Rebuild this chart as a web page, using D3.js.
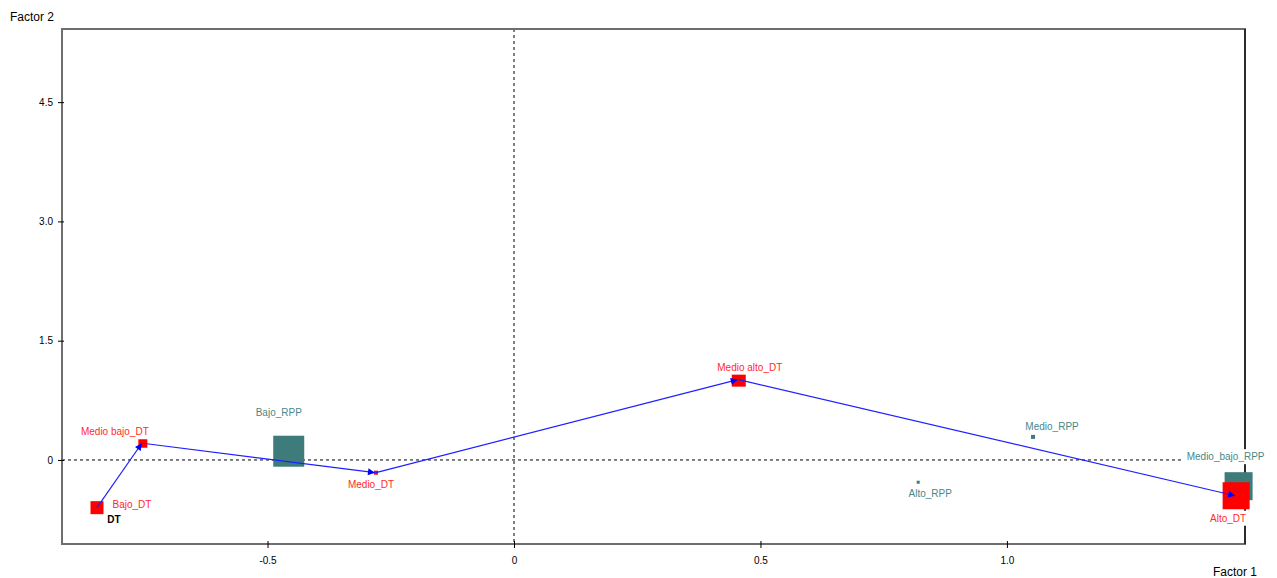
<!DOCTYPE html>
<meta charset="utf-8">
<style>
  body { margin: 0; background: #fff; }
  svg { display: block; font-family: "Liberation Sans", Arial, sans-serif; }
  .tick text { font-size: 10px; fill: #000; }
  .lbl { font-size: 10px; }
</style>
<body>
<script src="https://d3js.org/d3.v7.min.js"></script>
<script>
  // Row categories (DT) and column categories (RPP), with factor coordinates
  var dtNames = ["Bajo_DT", "Medio bajo_DT", "Medio_DT", "Medio alto_DT", "Alto_DT"];
  var dtF1 = [-0.846, -0.753, -0.280, 0.456, 1.465];
  var dtF2 = [-0.60, 0.21, -0.16, 1.01, -0.45];
  var dtWeight = [13, 9, 4, 14, 27];

  var rppNames = ["Bajo_RPP", "Medio_bajo_RPP", "Medio_RPP", "Alto_RPP"];
  var rppF1 = [-0.457, 1.470, 1.053, 0.820];
  var rppF2 = [0.11, -0.33, 0.29, -0.28];
  var rppWeight = [31, 28, 4, 3];

  var xTicks = [-0.5, 0, 0.5, 1.0];
  var xTickLabels = ["-0.5", "0", "0.5", "1.0"];
  var yTicks = [0, 1.5, 3.0, 4.5];
  var yTickLabels = ["0", "1.5", "3.0", "4.5"];

  // label placement (pixel offsets from marker centre)
  var dtLabelOffset = [[35, 0], [-28, -8], [-5, 15], [11, -9], [-8, 26]];
  var rppLabelOffset = [[-10, -35], [-13, -26], [19, -7], [12, 15]];

  var W = 1277, H = 578;
  var margin = {top: 29, right: 32, bottom: 34, left: 62};

  var x = d3.scaleLinear().domain([-0.917, 1.483]).range([margin.left, W - margin.right]);
  var y = d3.scaleLinear().domain([-1.057, 5.42]).range([H - margin.bottom, margin.top]);
  var size = d3.scaleLinear().domain([0, 30]).range([0, 30]);

  var svg = d3.select("body").append("svg").attr("width", W).attr("height", H);

  var defs = svg.append("defs");
  defs.append("marker")
      .attr("id", "arrow")
      .attr("viewBox", "0 0 10 10")
      .attr("refX", 10).attr("refY", 5)
      .attr("markerWidth", 9).attr("markerHeight", 7)
      .attr("markerUnits", "userSpaceOnUse")
      .attr("orient", "auto")
    .append("path")
      .attr("d", "M0,0L10,5L0,10z")
      .attr("fill", "#0000ff");

  var x0 = margin.left, x1 = W - margin.right, y0 = margin.top, y1 = H - margin.bottom;

  // reference lines at zero
  svg.append("line")
      .attr("x1", x0).attr("x2", x1).attr("y1", y(0)).attr("y2", y(0))
      .attr("stroke", "#000").attr("stroke-dasharray", "3,3");
  svg.append("line")
      .attr("x1", x(0)).attr("x2", x(0)).attr("y1", y0).attr("y2", y1)
      .attr("stroke", "#000").attr("stroke-dasharray", "3,3");

  // frame
  svg.append("rect")
      .attr("x", x0).attr("y", y0).attr("width", x1 - x0).attr("height", y1 - y0)
      .attr("fill", "none").attr("stroke", "#6e6e6e").attr("stroke-width", 2);
  svg.append("line")
      .attr("x1", x1).attr("x2", x1).attr("y1", y0).attr("y2", y1)
      .attr("stroke", "#000").attr("stroke-width", 1.2);

  // axes
  var xAxis = svg.append("g")
      .attr("transform", "translate(0," + y1 + ")")
      .call(d3.axisBottom(x).tickValues(xTicks)
        .tickFormat(function(d, i) { return xTickLabels[i]; }).tickSize(4).tickPadding(9));
  xAxis.select(".domain").remove();
  xAxis.selectAll(".tick line").attr("y1", -3).attr("stroke", "#000");

  var yAxis = svg.append("g")
      .attr("transform", "translate(" + x0 + ",0)")
      .call(d3.axisLeft(y).tickValues(yTicks)
        .tickFormat(function(d, i) { return yTickLabels[i]; }).tickSize(4).tickPadding(5));
  yAxis.select(".domain").remove();
  yAxis.selectAll(".tick line").attr("x1", 2).attr("x2", -4).attr("stroke", "#000");

  svg.append("text").attr("x", 10).attr("y", 21).attr("font-size", 12).text("Factor 2");
  svg.append("text").attr("x", 1213).attr("y", 576).attr("font-size", 12).text("Factor 1");

  // markers
  var rpp = rppNames.map(function(n, i) {
    return {name: n, f1: rppF1[i], f2: rppF2[i], w: rppWeight[i], off: rppLabelOffset[i]};
  });
  var dt = dtNames.map(function(n, i) {
    return {name: n, f1: dtF1[i], f2: dtF2[i], w: dtWeight[i], off: dtLabelOffset[i]};
  });

  svg.append("g").selectAll("rect").data(rpp).join("rect")
      .attr("x", function(d) { return x(d.f1) - size(d.w) / 2; })
      .attr("y", function(d) { return y(d.f2) - size(d.w) / 2; })
      .attr("width", function(d) { return size(d.w); })
      .attr("height", function(d) { return size(d.w); })
      .attr("fill", "#3e7b7b");

  svg.append("g").selectAll("rect").data(dt).join("rect")
      .attr("x", function(d) { return x(d.f1) - size(d.w) / 2; })
      .attr("y", function(d) { return y(d.f2) - size(d.w) / 2; })
      .attr("width", function(d) { return size(d.w); })
      .attr("height", function(d) { return size(d.w); })
      .attr("fill", "#ff0000");

  // trajectory arrows
  svg.append("g").selectAll("line").data(d3.pairs(dt)).join("line")
      .attr("x1", function(p) { return x(p[0].f1); })
      .attr("y1", function(p) { return y(p[0].f2); })
      .attr("x2", function(p) { return x(p[1].f1) - 1; })
      .attr("y2", function(p) { return y(p[1].f2); })
      .attr("stroke", "#2020ff").attr("stroke-width", 1.2)
      .attr("marker-end", "url(#arrow)");

  // labels with white backing
  function addLabels(data, color) {
    var g = svg.append("g").selectAll("g").data(data).join("g")
        .attr("transform", function(d) {
          return "translate(" + (x(d.f1) + d.off[0]) + "," + (y(d.f2) + d.off[1]) + ")";
        });
    g.append("text").attr("class", "lbl")
        .attr("text-anchor", "middle").attr("fill", color)
        .text(function(d) { return d.name; });
    g.insert("rect", "text").each(function() {
      var b = this.nextSibling.getBBox();
      d3.select(this).attr("x", b.x - 3).attr("y", b.y - 2)
        .attr("width", b.width + 6).attr("height", b.height + 4).attr("fill", "#fff");
    });
  }
  addLabels(rpp, "#4a8888");
  addLabels(dt, "#ff2a2a");

  svg.append("text")
      .attr("x", x(dtF1[0]) + 17).attr("y", y(dtF2[0]) + 15)
      .attr("text-anchor", "middle").attr("font-size", 10).attr("font-weight", "bold")
      .text("DT");
</script>
</body>
